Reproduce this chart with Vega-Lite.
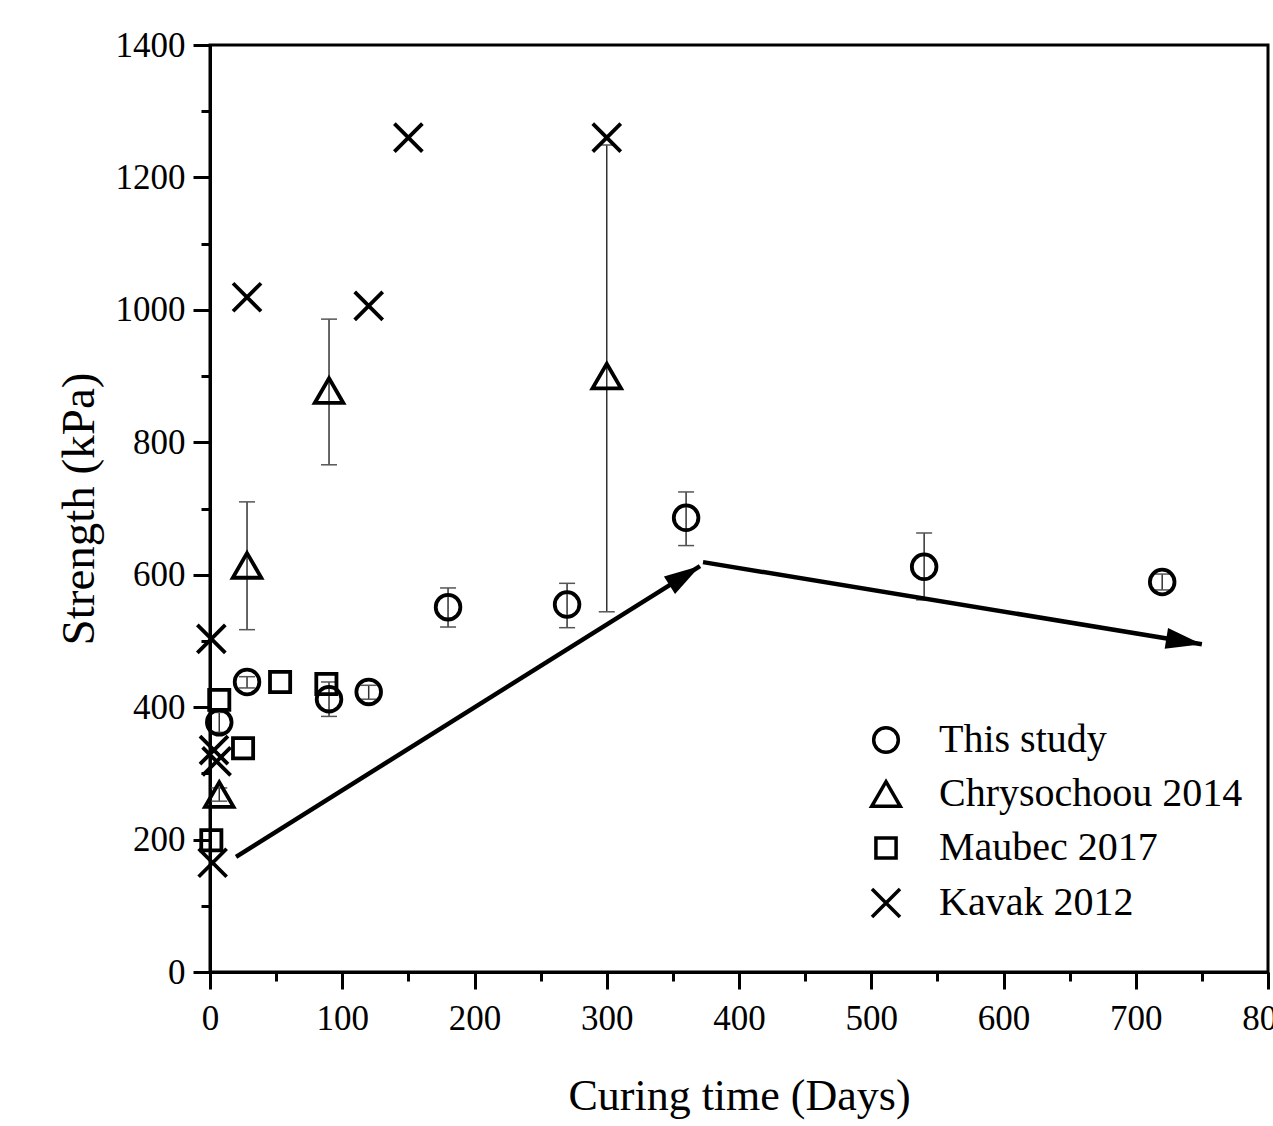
{
  "$schema": "https://vega.github.io/schema/vega-lite/v6.json",
  "width": 1058,
  "height": 927,
  "autosize": "none",
  "padding": {"left": 210, "top": 45, "right": 5, "bottom": 154},
  "background": "white",
  "config": {
    "view": {"stroke": "black", "strokeWidth": 3},
    "axis": {
      "domainColor": "black", "domainWidth": 3, "tickColor": "black", "tickWidth": 3,
      "grid": false, "labelFont": "Liberation Serif", "labelFontSize": 35, "labelColor": "black",
      "titleFont": "Liberation Serif", "titleFontSize": 44, "titleFontWeight": "normal", "titleColor": "black",
      "labelFlush": false, "format": "d"
    }
  },
  "datasets": {
    "pts": [
      {"series": "This study", "days": 7, "strength": 377, "lo": 362, "hi": 392},
      {"series": "This study", "days": 28, "strength": 438, "lo": 429, "hi": 446},
      {"series": "This study", "days": 90, "strength": 412, "lo": 386, "hi": 438},
      {"series": "This study", "days": 120, "strength": 423, "lo": 412, "hi": 433},
      {"series": "This study", "days": 180, "strength": 551, "lo": 521, "hi": 580},
      {"series": "This study", "days": 270, "strength": 555, "lo": 520, "hi": 587},
      {"series": "This study", "days": 360, "strength": 686, "lo": 644, "hi": 725},
      {"series": "This study", "days": 540, "strength": 612, "lo": 562, "hi": 663},
      {"series": "This study", "days": 720, "strength": 589, "lo": 577, "hi": 601},
      {"series": "Chrysochoou 2014", "days": 7, "strength": 268, "lo": 258, "hi": 278},
      {"series": "Chrysochoou 2014", "days": 28, "strength": 614, "lo": 517, "hi": 710},
      {"series": "Chrysochoou 2014", "days": 90, "strength": 878, "lo": 766, "hi": 986},
      {"series": "Chrysochoou 2014", "days": 300, "strength": 900, "lo": 544, "hi": 1249},
      {"series": "Maubec 2017", "days": 1, "strength": 199, "lo": null, "hi": null},
      {"series": "Maubec 2017", "days": 7, "strength": 411, "lo": null, "hi": null},
      {"series": "Maubec 2017", "days": 25, "strength": 338, "lo": null, "hi": null},
      {"series": "Maubec 2017", "days": 53, "strength": 438, "lo": null, "hi": null},
      {"series": "Maubec 2017", "days": 88, "strength": 435, "lo": null, "hi": null},
      {"series": "Kavak 2012", "days": 2, "strength": 165, "lo": null, "hi": null},
      {"series": "Kavak 2012", "days": 3, "strength": 335, "lo": null, "hi": null},
      {"series": "Kavak 2012", "days": 5, "strength": 318, "lo": null, "hi": null},
      {"series": "Kavak 2012", "days": 1, "strength": 503, "lo": null, "hi": null},
      {"series": "Kavak 2012", "days": 28, "strength": 1019, "lo": null, "hi": null},
      {"series": "Kavak 2012", "days": 120, "strength": 1006, "lo": null, "hi": null},
      {"series": "Kavak 2012", "days": 150, "strength": 1260, "lo": null, "hi": null},
      {"series": "Kavak 2012", "days": 300, "strength": 1260, "lo": null, "hi": null}
    ],
    "arrows": [
      {"id": "a1", "days": 19.7, "strength": 174, "days2": 370.5, "strength2": 613},
      {"id": "a2", "days": 372.8, "strength": 619, "days2": 750, "strength2": 495}
    ]
  },
  "resolve": {"axis": {"x": "independent", "y": "independent"}},
  "layer": [
    {
      "data": {"name": "pts"},
      "transform": [{"filter": "isValid(datum.lo)"}],
      "mark": {"type": "rule", "strokeWidth": 1.5, "color": "#333333"},
      "encoding": {
        "x": {"field": "days", "type": "quantitative", "scale": {"domain": [0, 800], "nice": false},
          "axis": {"orient": "bottom", "values": [50, 150, 250, 350, 450, 550, 650, 750], "tickSize": 9, "labels": false, "domain": false, "title": null}},
        "y": {"field": "lo", "type": "quantitative", "scale": {"domain": [0, 1400], "nice": false},
          "axis": {"orient": "left", "values": [100, 300, 500, 700, 900, 1100, 1300], "tickSize": 9, "labels": false, "domain": false, "title": null}},
        "y2": {"field": "hi"}
      }
    },
    {
      "data": {"name": "pts"},
      "transform": [{"filter": "isValid(datum.lo)"}],
      "mark": {"type": "tick", "orient": "horizontal", "size": 16, "thickness": 1.5, "color": "#555555", "opacity": 1},
      "encoding": {
        "x": {"field": "days", "type": "quantitative", "scale": {"domain": [0, 800], "nice": false}, "axis": null},
        "y": {"field": "lo", "type": "quantitative", "scale": {"domain": [0, 1400], "nice": false}, "axis": null}
      }
    },
    {
      "data": {"name": "pts"},
      "transform": [{"filter": "isValid(datum.hi)"}],
      "mark": {"type": "tick", "orient": "horizontal", "size": 16, "thickness": 1.5, "color": "#555555", "opacity": 1},
      "encoding": {
        "x": {"field": "days", "type": "quantitative", "scale": {"domain": [0, 800], "nice": false}, "axis": null},
        "y": {"field": "hi", "type": "quantitative", "scale": {"domain": [0, 1400], "nice": false}, "axis": null}
      }
    },
    {
      "data": {"name": "arrows"},
      "mark": {"type": "rule", "strokeWidth": 4.5, "color": "black", "strokeCap": "butt"},
      "encoding": {
        "x": {"field": "days", "type": "quantitative", "scale": {"domain": [0, 800], "nice": false}, "axis": null},
        "y": {"field": "strength", "type": "quantitative", "scale": {"domain": [0, 1400], "nice": false}, "axis": null},
        "x2": {"field": "days2"},
        "y2": {"field": "strength2"}
      }
    },
    {
      "data": {"name": "arrows"},
      "transform": [{"filter": "datum.id === 'a1'"}],
      "mark": {"type": "point", "shape": "M0,0L-0.58,2L0.58,2Z", "filled": true, "size": 1296, "angle": 57.9, "color": "black", "opacity": 1},
      "encoding": {
        "x": {"field": "days2", "type": "quantitative", "scale": {"domain": [0, 800], "nice": false}, "axis": null},
        "y": {"field": "strength2", "type": "quantitative", "scale": {"domain": [0, 1400], "nice": false}, "axis": null}
      }
    },
    {
      "data": {"name": "arrows"},
      "transform": [{"filter": "datum.id === 'a2'"}],
      "mark": {"type": "point", "shape": "M0,0L-0.58,2L0.58,2Z", "filled": true, "size": 1296, "angle": 99.3, "color": "black", "opacity": 1},
      "encoding": {
        "x": {"field": "days2", "type": "quantitative", "scale": {"domain": [0, 800], "nice": false}, "axis": null},
        "y": {"field": "strength2", "type": "quantitative", "scale": {"domain": [0, 1400], "nice": false}, "axis": null}
      }
    },
    {
      "data": {"name": "pts"},
      "mark": {"type": "point", "filled": false, "strokeWidth": 3.8, "color": "black", "opacity": 1, "size": 784, "strokeJoin": "miter"},
      "encoding": {
        "x": {"field": "days", "type": "quantitative", "scale": {"domain": [0, 800], "nice": false},
          "axis": {"orient": "bottom", "values": [0, 100, 200, 300, 400, 500, 600, 700, 800], "tickSize": 17, "labelPadding": 12, "title": "Curing time (Days)", "titlePadding": 38}},
        "y": {"field": "strength", "type": "quantitative", "scale": {"domain": [0, 1400], "nice": false},
          "axis": {"orient": "left", "values": [0, 200, 400, 600, 800, 1000, 1200, 1400], "tickSize": 17, "labelPadding": 8, "title": "Strength (kPa)", "titleFontSize": 47, "titlePadding": 12}},
        "shape": {"field": "series", "type": "nominal",
          "scale": {"domain": ["This study", "Chrysochoou 2014", "Maubec 2017", "Kavak 2012"],
            "range": ["M-0.88,0A0.88,0.88,0,1,0,0.88,0A0.88,0.88,0,1,0,-0.88,0Z", "M0,-0.88L1.02,0.88L-1.02,0.88Z", "M-0.72,-0.72L0.72,-0.72L0.72,0.72L-0.72,0.72Z", "M-1,-1L1,1M-1,1L1,-1"]},
          "legend": {"title": null, "orient": "none", "legendX": 656, "legendY": 675, "symbolSize": 784, "symbolStrokeWidth": 3.5, "symbolStrokeColor": "black", "symbolFillColor": "transparent", "labelFont": "Liberation Serif", "labelFontSize": 40, "labelColor": "black", "labelOffset": 33, "rowPadding": 14, "padding": 0, "labelLimit": 500}}
      }
    }
  ]
}
